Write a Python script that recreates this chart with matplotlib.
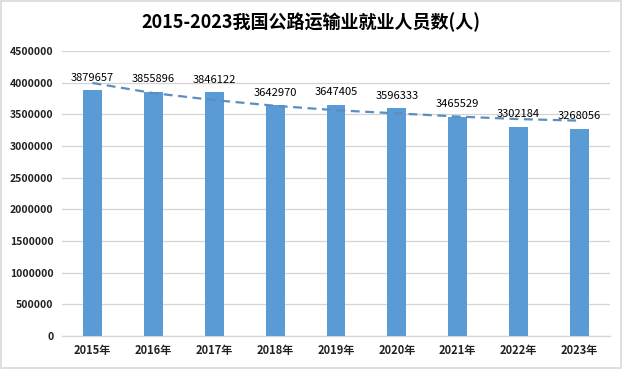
import matplotlib
matplotlib.use("Agg")
import matplotlib.pyplot as plt
from matplotlib.patches import Rectangle

plt.rcParams['font.family'] = ['Noto Sans CJK SC', 'DejaVu Sans']

categories = ["2015年", "2016年", "2017年", "2018年", "2019年", "2020年", "2021年", "2022年", "2023年"]
values = [3879657, 3855896, 3846122, 3642970, 3647405, 3596333, 3465529, 3302184, 3268056]
trend = [3995000, 3835000, 3725000, 3635000, 3565000, 3515000, 3465000, 3425000, 3400000]
yticks = [0, 500000, 1000000, 1500000, 2000000, 2500000, 3000000, 3500000, 4000000, 4500000]
title = "2015-2023我国公路运输业就业人员数(人)"

W, H = 622, 369
fig = plt.figure(figsize=(W / 100, H / 100), dpi=100)
fig.patch.set_facecolor("white")
fig.add_artist(Rectangle((0.002, 0.003), 0.996, 0.994, transform=fig.transFigure,
                         fill=False, edgecolor="#D9D9D9", linewidth=1.2))

ax = fig.add_axes([62 / W, 1 - 336 / H, (610 - 62) / W, (336 - 51) / H])
x = list(range(len(categories)))
bar_color = "#5B9BD5"
ax.bar(x, values, width=0.31, color=bar_color, zorder=3)
ax.plot(x, trend, linestyle=(0, (4, 2.5)), color="#5B8DC0", linewidth=1.6, zorder=4)

for xi, v in zip(x, values):
    ax.annotate(str(v), (xi, v), xytext=(0, 5.5), textcoords="offset points",
                ha="center", va="bottom", fontsize=8, color="#000000", zorder=5)

ax.set_xlim(-0.5, len(categories) - 0.5)
ax.set_ylim(0, 4500000)
ax.set_yticks(yticks)
ax.set_yticklabels([str(t) for t in yticks], fontsize=7.5, fontweight="bold", color="#222222")
ax.set_xticks(x)
ax.set_xticklabels(categories, fontsize=8, fontweight="bold", color="#222222")
ax.tick_params(axis="both", length=0)
ax.tick_params(axis="y", pad=6)
ax.tick_params(axis="x", pad=6)
ax.grid(axis="y", color="#D4D4D4", linewidth=0.9, zorder=0)
ax.set_axisbelow(True)
for s in ["left", "right", "top"]:
    ax.spines[s].set_visible(False)
ax.spines["bottom"].set_color("#D4D4D4")
ax.spines["bottom"].set_linewidth(0.9)

fig.text(0.5, 1 - 22 / H, title, ha="center", va="center", fontsize=13,
         fontweight="bold", color="#000000")

fig.savefig("out.png", dpi=100)
